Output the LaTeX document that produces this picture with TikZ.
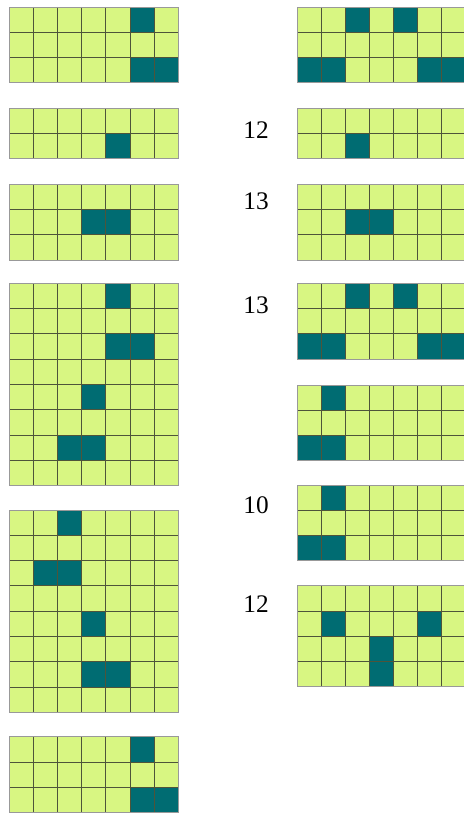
\documentclass[tikz,border=0pt]{standalone}
\usepackage{fontspec}
\setmainfont{Liberation Serif}
\definecolor{cellon}{RGB}{0,108,114}
\definecolor{celloff}{RGB}{216,246,130}
\definecolor{cellrule}{RGB}{78,84,58}
\tikzset{
  offcell/.style={fill=celloff},
  oncell/.style={fill=cellon},
  cellline/.style={draw=cellrule,line width=0.6pt},
  gridframe/.style={draw=gray!80,line width=0.7pt},
  countlabel/.style={font=\fontsize{18}{20}\selectfont,inner sep=0pt}
}
% #1 left, #2 top, #3 rows, #4 dark cells row/col
\newcommand{\bitgrid}[4]{%
  \fill[offcell] (#1,#2) rectangle ++(168.7,{#3*25.3});
  \foreach \r/\c in {#4}
    \fill[oncell] ({#1+\c*24.1},{#2+\r*25.3}) rectangle ++(24.1,25.3);
  \foreach \i in {1,...,6}
    \draw[cellline] ({#1+\i*24.1},#2) -- ++(0,{#3*25.3});
  \foreach \j in {1,...,#3}
    \draw[cellline] (#1,{#2+\j*25.3}) -- ++(168.7,0);
  \draw[gridframe] (#1,#2) rectangle ++(168.7,{#3*25.3});
}
\begin{document}
\begin{tikzpicture}[x=0.025cm,y=-0.025cm]
\useasboundingbox (0,0) rectangle (464,814);

% left column
\bitgrid{9.5}{7}{3}{0/5,2/5,2/6}
\bitgrid{9.5}{108.3}{2}{1/4}
\bitgrid{9.5}{184.3}{3}{1/3,1/4}
\bitgrid{9.5}{283.3}{8}{0/4,2/4,2/5,4/3,6/2,6/3}
\bitgrid{9.5}{510}{8}{0/2,2/1,2/2,4/3,6/3,6/4}
\bitgrid{9.5}{736.7}{3}{0/5,2/5,2/6}

% right column
\bitgrid{297}{7}{3}{0/2,0/4,2/0,2/1,2/5,2/6}
\bitgrid{297}{108.3}{2}{1/2}
\bitgrid{297}{184.3}{3}{1/2,1/3}
\bitgrid{297}{283.3}{3}{0/2,0/4,2/0,2/1,2/5,2/6}
\bitgrid{297}{385}{3}{0/1,2/0,2/1}
\bitgrid{297}{485}{3}{0/1,2/0,2/1}
\bitgrid{297}{585.7}{4}{1/1,1/5,2/3,3/3}

% counts
\node[countlabel] (twelveA) at (256,130) {12};
\node[countlabel] (thirteenA) at (256,201) {13};
\node[countlabel] (thirteenB) at (256,305) {13};
\node[countlabel] (ten) at (256,505) {10};
\node[countlabel] (twelveB) at (256,604) {12};
\end{tikzpicture}
\end{document}
